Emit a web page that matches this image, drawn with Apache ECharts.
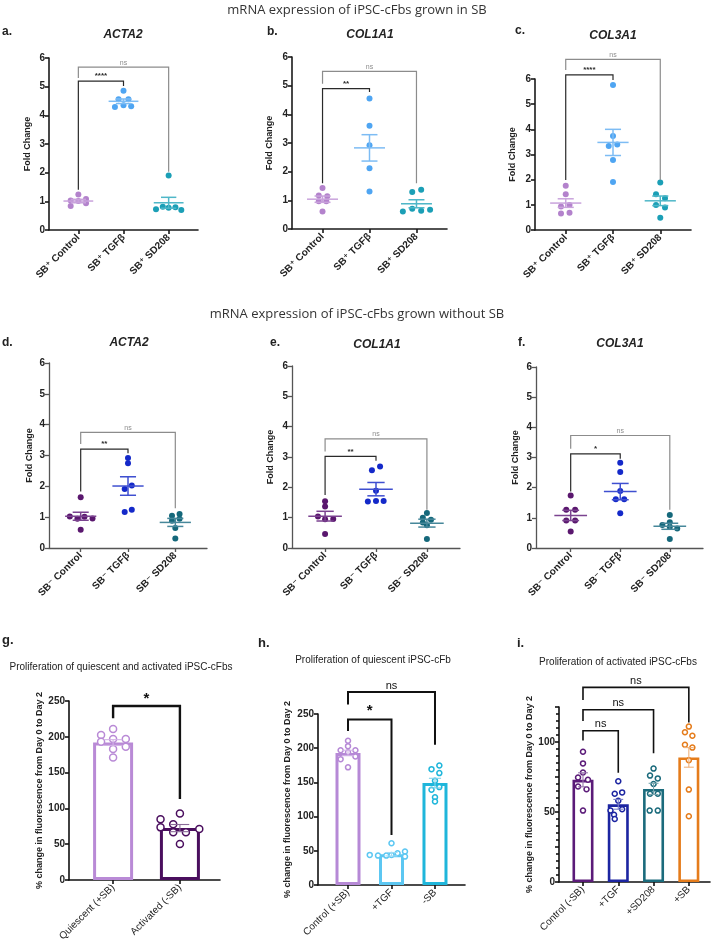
<!DOCTYPE html>
<html>
<head>
<meta charset="utf-8">
<script src="https://cdn.jsdelivr.net/npm/echarts@6/dist/echarts.min.js"></script>
<style>
  html, body { margin: 0; padding: 0; background: #fff; }
  #chart { width: 714px; height: 945px; }
</style>
</head>
<body>
<div id="chart"></div>
<script>
// ---- categories / ticks ----
var catsSBplus = ['SB\u207A Control', 'SB\u207A TGF\u03B2', 'SB\u207A SD208'];
var catsSBminus = ['SB\u207B Control', 'SB\u207B TGF\u03B2', 'SB\u207B SD208'];
var catsG = ['Quiescent (+SB)', 'Activated (-SB)'];
var catsH = ['Control (+SB)', '+TGF', '-SB'];
var catsI = ['Control (-SB)', '+TGF', '+SD208', '+SB'];
var foldTicks = [0, 1, 2, 3, 4, 5, 6];
var prolifTicks = [0, 50, 100, 150, 200, 250];
var activTicks = [0, 50, 100];

// ---- a. ACTA2 (SB+) ----
var aCtrl = [1.24, 1.03, 1.01, 1.08, 0.93, 0.84];
var aTGF = [4.86, 4.56, 4.56, 4.29, 4.35, 4.32];
var aSD = [1.90, 0.72, 0.81, 0.78, 0.79, 0.70];
var aMean = [1.01, 4.49, 0.95];
var aSem = [0.06, 0.08, 0.19];
// ---- b. COL1A1 (SB+) ----
var bCtrl = [1.43, 1.17, 1.14, 0.97, 0.97, 0.61];
var bTGF = [4.55, 3.60, 2.92, 2.12, 1.31];
var bSD = [0.61, 0.71, 0.64, 0.67, 1.29, 1.37];
var bMean = [1.04, 2.83, 0.88];
var bSem = [0.11, 0.46, 0.14];
// ---- c. COL3A1 (SB+) ----
var cCtrl = [1.76, 1.42, 0.93, 0.99, 0.66, 0.69];
var cTGF = [5.76, 3.74, 3.34, 3.40, 2.78, 1.91];
var cSD = [1.89, 1.42, 1.26, 0.99, 0.89, 0.49];
var cMean = [1.07, 3.48, 1.16];
var cSem = [0.17, 0.52, 0.19];
// ---- d. ACTA2 (SB-) ----
var dCtrl = [1.65, 1.02, 0.95, 1.01, 0.96, 0.59];
var dTGF = [2.92, 2.75, 1.91, 2.03, 1.17, 1.24];
var dSD = [1.05, 1.10, 0.88, 0.95, 0.65, 0.31];
var dMean = [1.03, 2.01, 0.83];
var dSem = [0.13, 0.30, 0.13];
// ---- e. COL1A1 (SB-) ----
var eCtrl = [1.54, 1.37, 1.04, 0.95, 0.96, 0.46];
var eTGF = [2.69, 2.56, 1.89, 1.53, 1.55, 1.55];
var eSD = [1.15, 1.00, 0.93, 0.84, 0.75, 0.30];
var eMean = [1.05, 1.94, 0.82];
var eSem = [0.16, 0.22, 0.13];
// ---- f. COL3A1 (SB-) ----
var fCtrl = [1.74, 1.27, 1.27, 0.91, 0.91, 0.55];
var fTGF = [2.83, 2.52, 1.89, 1.62, 1.62, 1.15];
var fSD = [1.09, 0.85, 0.76, 0.70, 0.65, 0.30];
var fMean = [1.08, 1.87, 0.72];
var fSem = [0.17, 0.27, 0.10];
// ---- g. quiescent vs activated ----
var gQui = [211, 202.5, 197, 197, 193, 186, 183, 171];
var gAct = [93, 84.7, 77.7, 73.5, 71.2, 66.6, 66.6, 50.3];
var gMean = [192, 72.5];
var gSem = [4, 5];
// ---- h. quiescent ----
var hCtrl = [211, 203, 197, 197, 194, 188, 184, 172];
var hTGF = [61, 48.8, 46.4, 44, 43, 43, 41.5, 44];
var hSB = [174.8, 169.4, 163.6, 152.3, 143.1, 139.2, 128.4, 122.1];
var hMean = [193, 45, 149];
var hSem = [4, 2.5, 7];
// ---- i. activated ----
var iCtrl = [93, 84.7, 78.2, 74.6, 73, 68.2, 66.3, 51];
var iTGF = [72, 63, 64, 58, 51, 48, 52, 45];
var iSD = [81, 76, 74, 70, 63, 63, 51, 51];
var iSB = [111, 107, 104.5, 98, 96, 87, 66, 47];
var iMean = [73, 55.5, 66.5, 89];
var iSem = [5, 3.5, 4, 7];

// brackets: [fromCat, toCat, top, leftLegEnd, rightLegEnd]
var aBr = [[1, 3, 5.68, 5.3, 2.03], [1, 2, 5.19, 1.4, 5.02]];
var aMarks = ['ns', '****'];
var bBr = [[1, 3, 5.5, 5.07, 1.6], [1, 2, 4.9, 1.6, 4.78]];
var bMarks = ['ns', '**'];
var cBr = [[1, 3, 6.78, 6.36, 1.99], [1, 2, 6.16, 1.99, 5.96]];
var cMarks = ['ns', '****'];
var dBr = [[1, 3, 3.75, 3.37, 1.29], [1, 2, 3.21, 1.83, 3.07]];
var dMarks = ['ns', '**'];
var eBr = [[1, 3, 3.6, 3.18, 1.26], [1, 2, 3.02, 1.75, 2.88]];
var eMarks = ['ns', '**'];
var fBr = [[1, 3, 3.73, 3.29, 1.27], [1, 2, 3.12, 1.87, 2.96]];
var fMarks = ['ns', '*'];
var gBr = [[1, 2, 243, 226, 113]];
var gMarks = ['*'];
var hBr = [[1, 3, 282, 264, 205], [1, 2, 242, 225, 73]];
var hMarks = ['ns', '*'];
var iBr = [[1, 4, 139, 130, 114], [1, 3, 123, 115, 92], [1, 2, 108, 101, 78]];
var iMarks = ['ns', 'ns', 'ns'];

// horizontal scatter of the dots (category units)
var jitA = [[0, -0.17, 0, 0.17, 0.17, -0.17], [0, -0.11, 0.11, -0.19, 0, 0.17], [0, -0.28, -0.13, 0, 0.15, 0.28]];
var jitB = [[0, -0.08, 0.1, -0.08, 0.08, 0], [0, 0, 0, 0, 0], [-0.29, -0.09, 0.1, 0.29, -0.09, 0.1]];
var jitC = [[0, 0, -0.1, 0.08, -0.1, 0.08], [0, 0, -0.09, 0.09, 0, 0], [0, -0.09, 0.1, -0.09, 0.1, 0]];
var jitD = [[0, -0.23, -0.07, 0.08, 0.25, 0], [0, 0, -0.07, 0.08, -0.07, 0.08], [-0.07, 0.09, -0.07, 0.09, 0, 0]];
var jitE = [[0, 0, -0.14, 0, 0.16, 0], [0.08, -0.08, 0, -0.16, 0, 0.15], [0, -0.08, 0.08, -0.08, 0, 0]];
var jitF = [[0, -0.09, 0.09, -0.09, 0.09, 0], [0, 0, 0, -0.09, 0.08, 0], [0, 0, -0.15, 0, 0.15, 0]];
var jitG = [[0, -0.18, 0, 0.19, -0.18, 0.19, 0, 0], [0, -0.29, -0.1, -0.29, 0.29, -0.1, 0.09, 0]];
var jitH = [[0, 0, -0.17, 0.17, 0, 0.17, -0.17, 0], [0, 0.31, 0.14, -0.5, -0.31, -0.12, 0.31, 0], [0.1, -0.08, 0.1, 0, 0.1, -0.08, 0, 0]];
var jitI = [[0, 0, 0, -0.14, 0.14, -0.14, 0.1, 0], [0, -0.1, 0.11, 0, -0.22, -0.12, 0.11, -0.1],
            [0, -0.1, 0.12, 0, -0.1, 0.12, -0.11, 0.12], [0, -0.11, 0.1, -0.11, 0.1, 0, 0, 0]];

var FONT = '"Liberation Sans", Arial, "DejaVu Sans", sans-serif';
var row1Col = ['#b382cc', '#4fa5f2', '#1b9fb6'];
var row1Line = ['#c9a3dc', '#7dbcf4', '#4fb7c8'];
var row2Col = ['#5a176e', '#1429c9', '#15687b'];
var row2Line = ['#7b4390', '#3f4fd0', '#46879a'];

var grids = [], xAxes = [], yAxes = [], series = [];

function meanSemRender(halfMean, halfCap, lw) {
  return function (params, api) {
    var x = api.value(0), m = api.value(1), s = api.value(2);
    var color = api.visual('color');
    var top = api.coord([x, m + s]), bot = api.coord([x, m - s]);
    var cL = api.coord([x - halfCap, m])[0], cR = api.coord([x + halfCap, m])[0];
    var st = {stroke: color, lineWidth: lw};
    var kids = [
      {type: 'line', shape: {x1: top[0], y1: top[1], x2: bot[0], y2: bot[1]}, style: st},
      {type: 'line', shape: {x1: cL, y1: top[1], x2: cR, y2: top[1]}, style: st},
      {type: 'line', shape: {x1: cL, y1: bot[1], x2: cR, y2: bot[1]}, style: st}
    ];
    if (halfMean > 0) {
      var mL = api.coord([x - halfMean, m]), mR = api.coord([x + halfMean, m]);
      kids.push({type: 'line', shape: {x1: mL[0], y1: mL[1], x2: mR[0], y2: mR[1]}, style: st});
    }
    return {type: 'group', children: kids};
  };
}

function bracketRender(marks, lw, fonts, gap) {
  return function (params, api) {
    var color = api.visual('color');
    var x1 = api.value(0), x2 = api.value(1);
    var p1 = api.coord([x1, api.value(3)]), p2 = api.coord([x1, api.value(2)]);
    var p3 = api.coord([x2, api.value(2)]), p4 = api.coord([x2, api.value(4)]);
    var mk = marks[params.dataIndex];
    return {type: 'group', children: [
      {type: 'polyline', shape: {points: [p1, p2, p3, p4]}, style: {stroke: color, lineWidth: lw, fill: 'none'}},
      {type: 'text', x: (p2[0] + p3[0]) / 2, y: p2[1] - gap,
       style: {text: mk, fill: color, font: mk === 'ns' ? fonts[0] : fonts[1],
               align: 'center', verticalAlign: 'bottom', textAlign: 'center', textVerticalAlign: 'bottom'}}
    ]};
  };
}

function addPanel(p) {
  var k = grids.length;
  grids.push({left: p.box[0], top: p.box[1], width: p.box[2], height: p.box[3]});
  var pos = p.cats.map(function (c, i) { return i + 1; });
  var ax = {color: p.axisColor, width: p.axisWidth};
  xAxes.push({
    gridIndex: k, type: 'value', min: p.xRange[0], max: p.xRange[1],
    axisLine: {show: true, onZero: false, lineStyle: ax},
    axisTick: {show: true, customValues: pos, length: 4, lineStyle: ax},
    axisLabel: {customValues: pos, rotate: 45, margin: 6, fontFamily: FONT, fontSize: 10,
      fontWeight: p.catWeight, color: '#222',
      formatter: function (v) { return p.cats[Math.round(v) - 1]; }},
    splitLine: {show: false}
  });
  yAxes.push({
    gridIndex: k, type: 'value', min: p.yTicks[0], max: p.yMax, interval: p.yStep,
    name: p.yName, nameLocation: 'middle', nameGap: p.nameGap,
    nameTextStyle: {fontFamily: FONT, fontSize: p.nameSize, fontWeight: 'bold', color: '#222'},
    axisLine: {show: true, lineStyle: ax},
    axisTick: {show: true, length: 4, lineStyle: ax},
    minorTick: {show: !!p.minor, splitNumber: 5, length: 3, lineStyle: ax},
    axisLabel: {customValues: p.yTicks, margin: 4, fontFamily: FONT, fontSize: 10, fontWeight: 'bold', color: '#222'},
    splitLine: {show: false}
  });

  if (p.barWidth) {
    series.push({
      type: 'bar', xAxisIndex: k, yAxisIndex: k, barWidth: p.barWidth, z: 1, silent: true,
      data: p.mean.map(function (m, i) {
        return {value: [i + 1, m], itemStyle: {color: 'rgba(255,255,255,0)', borderColor: p.colors[i], borderWidth: p.barBorder}};
      })
    });
  }
  p.groups.forEach(function (vals, i) {
    var jit = p.jitter[i];
    series.push({
      type: 'scatter', xAxisIndex: k, yAxisIndex: k, z: 3, silent: true,
      symbol: 'circle', symbolSize: p.dot,
      itemStyle: p.hollow ? {color: '#fff', borderColor: p.colors[i], borderWidth: p.dotBorder, opacity: 1}
                          : {color: p.colors[i], opacity: 1},
      data: vals.map(function (v, j) { return [i + 1 + jit[j], v]; })
    });
  });
  series.push({
    type: 'custom', xAxisIndex: k, yAxisIndex: k, z: 4, silent: true,
    renderItem: meanSemRender(p.halfMean, p.halfCap, p.semWidth),
    data: p.mean.map(function (m, i) {
      return {value: [i + 1, m, p.sem[i]], itemStyle: {color: p.lineColors[i]}};
    })
  });
  series.push({
    type: 'custom', xAxisIndex: k, yAxisIndex: k, z: 5, silent: true, clip: false,
    renderItem: bracketRender(p.marks, p.brWidth, p.markFonts, p.markGap),
    data: p.brackets.map(function (b, i) {
      return {value: b, itemStyle: {color: p.marks[i] === 'ns' ? p.nsColor : p.sigColor}};
    })
  });
}

function mrnaPanel(box, xRange, cats, groups, jitter, mean, sem, brackets, marks, nameGap, row) {
  addPanel({
    box: box, xRange: xRange, cats: cats, catWeight: 'bold',
    yTicks: foldTicks, yMax: 6, yStep: 1, yName: 'Fold Change', nameGap: nameGap, nameSize: 9,
    axisColor: row === 1 ? '#1a1a1a' : '#555', axisWidth: row === 1 ? 1.6 : 1.3,
    groups: groups, jitter: jitter, colors: row === 1 ? row1Col : row2Col,
    lineColors: row === 1 ? row1Line : row2Line, dot: 6,
    mean: mean, sem: sem, halfMean: 0.33, halfCap: 0.17, semWidth: 1.5,
    brackets: brackets, marks: marks, brWidth: 1.2, nsColor: '#8c8c8c', sigColor: '#2a2a2a',
    markFonts: ['7px ' + FONT, 'bold 8px ' + FONT], markGap: 1
  });
}

mrnaPanel([49, 58, 149, 172], [0.35, 3.65], catsSBplus, [aCtrl, aTGF, aSD], jitA, aMean, aSem, aBr, aMarks, 17, 1);
mrnaPanel([292, 57, 155, 172], [0.35, 3.65], catsSBplus, [bCtrl, bTGF, bSD], jitB, bMean, bSem, bBr, bMarks, 18, 1);
mrnaPanel([535, 79, 156, 151], [0.35, 3.65], catsSBplus, [cCtrl, cTGF, cSD], jitC, cMean, cSem, cBr, cMarks, 18, 1);
mrnaPanel([49, 363, 158, 185], [0.33, 3.67], catsSBminus, [dCtrl, dTGF, dSD], jitD, dMean, dSem, dBr, dMarks, 15, 2);
mrnaPanel([292, 366, 168, 182], [0.35, 3.65], catsSBminus, [eCtrl, eTGF, eSD], jitE, eMean, eSem, eBr, eMarks, 17, 2);
mrnaPanel([536, 367, 167, 181], [0.3, 3.67], catsSBminus, [fCtrl, fTGF, fSD], jitF, fMean, fSem, fBr, fMarks, 16, 2);

var yNameProlif = '% change in fluorescence from Day 0 to Day 2';
function prolifPanel(o) {
  addPanel({
    box: o.box, xRange: o.xRange, cats: o.cats, catWeight: 'normal',
    yTicks: o.yTicks, yMax: o.yMax, yStep: o.yStep, minor: o.minor,
    yName: yNameProlif, nameGap: o.nameGap, nameSize: 9,
    axisColor: '#111', axisWidth: 1.6,
    groups: o.groups, jitter: o.jitter, colors: o.colors, lineColors: o.lineColors,
    hollow: true, dot: o.dot, dotBorder: 1.5,
    barWidth: o.barWidth, barBorder: o.barBorder,
    mean: o.mean, sem: o.sem, halfMean: 0, halfCap: 0.14, semWidth: 1.1,
    brackets: o.brackets, marks: o.marks, brWidth: o.brWidth, nsColor: '#111', sigColor: '#111',
    markFonts: ['11px ' + FONT, 'bold 15px ' + FONT], markGap: o.markGap
  });
}

prolifPanel({
  box: [69, 701, 151, 179], xRange: [0.34, 2.6], cats: catsG,
  yTicks: prolifTicks, yMax: 250, yStep: 50, nameGap: 25,
  groups: [gQui, gAct], jitter: jitG, colors: ['#b98ad6', '#4a0e5e'], lineColors: ['#d2b4e6', '#8a6a98'],
  dot: 7, barWidth: 40, barBorder: 3, mean: gMean, sem: gSem,
  brackets: gBr, marks: gMarks, brWidth: 2.4, markGap: 0
});
prolifPanel({
  box: [318, 714, 147, 171], xRange: [0.31, 3.69], cats: catsH,
  yTicks: prolifTicks, yMax: 250, yStep: 50, nameGap: 26,
  groups: [hCtrl, hTGF, hSB], jitter: jitH, colors: ['#b689d6', '#5cc7f2', '#1fb6db'],
  lineColors: ['#d4b7e8', '#9ddcf6', '#7fd2ea'],
  dot: 5, barWidth: 25, barBorder: 3, mean: hMean, sem: hSem,
  brackets: hBr, marks: hMarks, brWidth: 2, markGap: 1
});
prolifPanel({
  box: [559, 707, 151, 175], xRange: [0.32, 4.6], cats: catsI,
  yTicks: activTicks, yMax: 125, yStep: 25, minor: true, nameGap: 24,
  groups: [iCtrl, iTGF, iSD, iSB], jitter: jitI, colors: ['#5b1b79', '#1c25a1', '#1b6b7c', '#e57c1b'],
  lineColors: ['#9a7aae', '#7a80c8', '#78a4ae', '#f0b27a'],
  dot: 5, barWidth: 21, barBorder: 2.6, mean: iMean, sem: iSem,
  brackets: iBr, marks: iMarks, brWidth: 1.6, markGap: 1
});

function txt(s, x, y, font, align, color) {
  return {type: 'text', x: x, y: y, silent: true,
    style: {text: s, font: font, fill: color || '#222', align: align || 'center', verticalAlign: 'middle',
            textAlign: align || 'center', textVerticalAlign: 'middle'}};
}
var HEAD = '13px "Open Sans", "Noto Sans", sans-serif';
var GENE = 'italic bold 12px ' + FONT;
var LET = 'bold 12px ' + FONT;
var SUB = '10px ' + FONT;
var graphics = [
  txt('mRNA expression of iPSC-cFbs grown in SB', 357, 10, HEAD, 'center', '#333'),
  txt('mRNA expression of iPSC-cFbs grown without SB', 357, 314, HEAD, 'center', '#333'),
  txt('a.', 2, 32, LET, 'left'), txt('b.', 267, 32, LET, 'left'), txt('c.', 515, 31, LET, 'left'),
  txt('d.', 2, 343, LET, 'left'), txt('e.', 270, 343, LET, 'left'), txt('f.', 518, 343, LET, 'left'),
  txt('g.', 2, 640, 'bold 13px ' + FONT, 'left'), txt('h.', 258, 643, 'bold 13px ' + FONT, 'left'),
  txt('i.', 517, 643, 'bold 13px ' + FONT, 'left'),
  txt('ACTA2', 123, 35, GENE), txt('COL1A1', 370, 35, GENE), txt('COL3A1', 613, 36, GENE),
  txt('ACTA2', 129, 343, GENE), txt('COL1A1', 377, 345, GENE), txt('COL3A1', 620, 344, GENE),
  txt('Proliferation of quiescent and activated iPSC-cFbs', 121, 667, SUB),
  txt('Proliferation of quiescent iPSC-cFb', 373, 660, SUB),
  txt('Proliferation of activated iPSC-cFbs', 618, 662, SUB)
];

var myChart = echarts.init(document.getElementById('chart'));
myChart.setOption({
  backgroundColor: '#fff',
  animation: false,
  grid: grids,
  xAxis: xAxes,
  yAxis: yAxes,
  series: series,
  graphic: {elements: graphics}
});
</script>
</body>
</html>
